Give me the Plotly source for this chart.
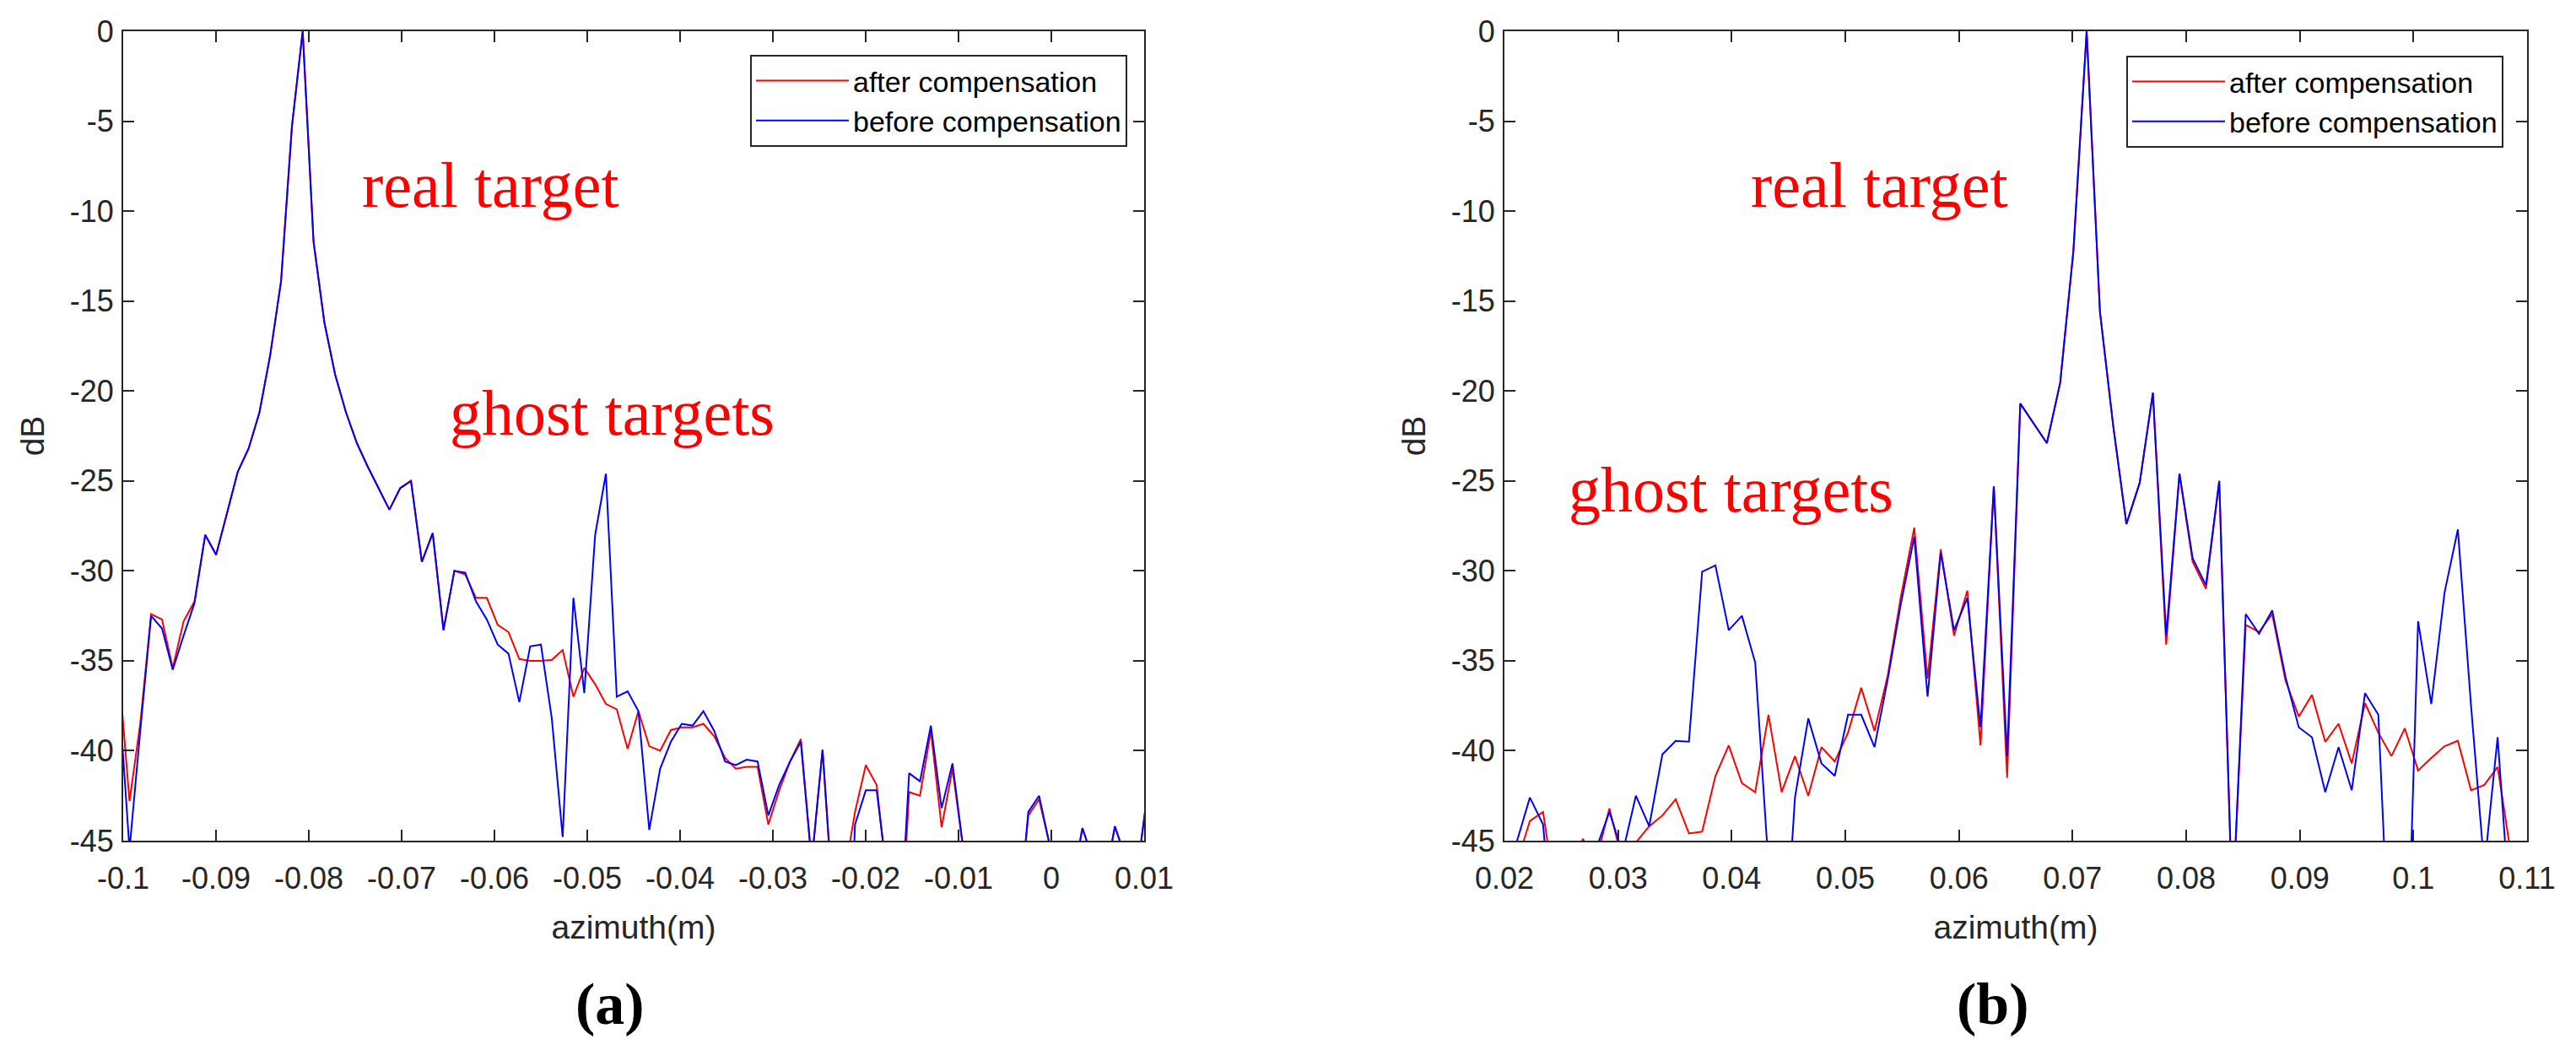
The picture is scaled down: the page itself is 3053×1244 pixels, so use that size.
import numpy as np
import plotly.graph_objects as go

# ---------------- data ----------------
# sample grid of panel (a) / (b): azimuth positions (m), uniform sampling
azimuth_a = np.round(np.linspace(-0.10049, 0.01035, 96), 5)
azimuth_b = np.round(np.linspace(0.02107, 0.10974, 77), 5)

after_a = [
    -35.4, -42.8, -38.5, -32.4, -32.7, -35.4, -32.8, -31.7, -28.0, -29.1,
    -26.8, -24.5, -23.2, -21.2, -18.0, -13.9, -5.3, 0.0, -11.7, -16.2,
    -19.1, -21.2, -22.9, -24.2, -25.4, -26.6, -25.4, -25.0, -29.5, -27.9,
    -33.3, -30.0, -30.2, -31.5, -31.5, -33.0, -33.4, -34.9, -35.0, -35.0,
    -34.95, -34.4, -37.0, -35.4, -36.3, -37.4, -37.7, -39.9, -37.8, -39.75,
    -40.0, -38.85, -38.7, -38.7, -38.5, -39.2, -40.4, -41.0, -40.9, -40.9,
    -44.1, -42.2, -40.6, -39.35, -46.2, -39.95, -48.7, -47.0, -43.4, -40.8,
    -41.9, -47.3, -53.0, -42.3, -42.5, -38.9, -44.25, -41.0, -45.5, -55.0,
    -60.0, -60.0, -55.0, -50.0, -43.6, -42.7, -45.3, -60.0, -47.6, -44.3,
    -46.1, -47.5, -44.2, -46.0, -47.0, -42.4,
]
before_a = [
    -36.6, -45.5, -38.9, -32.5, -33.2, -35.5, -33.6, -31.8, -28.0, -29.1,
    -26.8, -24.5, -23.2, -21.2, -18.0, -13.9, -5.3, 0.0, -11.7, -16.2,
    -19.1, -21.2, -22.9, -24.2, -25.4, -26.6, -25.4, -25.0, -29.5, -27.9,
    -33.3, -30.0, -30.1, -31.7, -32.7, -34.1, -34.6, -37.3, -34.2, -34.1,
    -38.2, -44.8, -31.5, -36.8, -28.0, -24.6, -37.0, -36.7, -37.8, -44.4,
    -41.0, -39.5, -38.5, -38.6, -37.8, -38.9, -40.6, -40.8, -40.5, -40.6,
    -43.6, -41.9, -40.6, -39.5, -46.2, -39.95, -48.7, -60.0, -44.1, -42.2,
    -42.2, -47.0, -52.0, -41.25, -41.7, -38.6, -43.2, -40.7, -45.5, -55.0,
    -60.0, -60.0, -55.0, -50.0, -43.4, -42.5, -45.3, -60.0, -47.6, -44.3,
    -46.1, -47.5, -44.2, -46.0, -47.0, -42.4,
]

after_b = [
    -46.3, -43.9, -43.4, -48.4, -47.0, -44.9, -46.1, -43.2, -46.2, -45.1,
    -44.2, -43.6, -42.7, -44.6, -44.5, -41.4, -39.7, -41.8, -42.3, -38.0,
    -42.3, -40.3, -42.5, -39.8, -40.6, -39.0, -36.5, -38.9, -35.8, -31.4,
    -27.6, -36.0, -28.8, -33.6, -31.1, -39.7, -25.3, -41.5, -20.7, -21.8,
    -22.9, -19.55, -12.25, 0.0, -15.6, -21.9, -27.4, -25.1, -20.1, -34.1,
    -24.6, -29.5, -31.0, -25.0, -49.0, -33.0, -33.4, -32.4, -36.1, -38.1,
    -36.9, -39.5, -38.5, -40.7, -37.35, -39.0, -40.3, -38.75, -41.1, -40.4,
    -39.75, -39.45, -42.2, -41.9, -40.9, -45.7, -55.0,
]
before_b = [
    -45.1, -42.6, -44.1, -52.4, -55.0, -55.0, -45.45, -43.4, -45.7, -42.5,
    -44.2, -40.2, -39.45, -39.5, -30.05, -29.7, -33.3, -32.5, -35.1, -46.4,
    -54.3, -42.6, -38.2, -40.7, -41.4, -38.0, -38.0, -39.8, -36.0, -31.8,
    -28.1, -37.0, -29.0, -33.3, -31.5, -38.7, -25.3, -40.3, -20.7, -21.8,
    -22.9, -19.55, -12.25, 0.0, -15.6, -21.9, -27.4, -25.1, -20.1, -33.6,
    -24.6, -29.3, -30.8, -25.0, -49.0, -32.4, -33.5, -32.2, -35.9, -38.7,
    -39.25, -42.3, -39.8, -42.2, -36.8, -38.0, -54.5, -57.5, -32.8, -37.4,
    -31.2, -27.7, -37.5, -46.5, -39.25, -49.6, -55.0,
]

series_names = ["after compensation", "before compensation"]
x_ticks_a = [-0.1, -0.09, -0.08, -0.07, -0.06, -0.05, -0.04, -0.03, -0.02, -0.01, 0, 0.01]
x_ticktext_a = ["-0.1", "-0.09", "-0.08", "-0.07", "-0.06", "-0.05", "-0.04", "-0.03",
                "-0.02", "-0.01", "0", "0.01"]
x_ticks_b = [0.02, 0.03, 0.04, 0.05, 0.06, 0.07, 0.08, 0.09, 0.1, 0.11]
x_ticktext_b = ["0.02", "0.03", "0.04", "0.05", "0.06", "0.07", "0.08", "0.09", "0.1", "0.11"]
y_ticks = [0, -5, -10, -15, -20, -25, -30, -35, -40, -45]
y_ticktext = ["0", "-5", "-10", "-15", "-20", "-25", "-30", "-35", "-40", "-45"]

# ---------------- figure ----------------
W, H = 3053, 1244
RED, BLUE = "#ff0000", "#0000ff"
AX = "#262626"
SANS = "Liberation Sans, Arial, sans-serif"
SERIF = "Liberation Serif, Times New Roman, serif"

fig = go.Figure()
fig.add_trace(go.Scatter(x=azimuth_a, y=after_a, mode="lines", name=series_names[0],
                         line=dict(color=RED, width=2), xaxis="x", yaxis="y", legend="legend"))
fig.add_trace(go.Scatter(x=azimuth_a, y=before_a, mode="lines", name=series_names[1],
                         line=dict(color=BLUE, width=2), xaxis="x", yaxis="y", legend="legend"))
fig.add_trace(go.Scatter(x=azimuth_b, y=after_b, mode="lines", name=series_names[0],
                         line=dict(color=RED, width=2), xaxis="x2", yaxis="y2", legend="legend2"))
fig.add_trace(go.Scatter(x=azimuth_b, y=before_b, mode="lines", name=series_names[1],
                         line=dict(color=BLUE, width=2), xaxis="x2", yaxis="y2", legend="legend2"))

ydom = [(H - 996) / H, (H - 37) / H]
common_axis = dict(showline=True, linecolor=AX, linewidth=2, mirror="ticks", ticks="inside",
                   ticklen=13, tickwidth=2, tickcolor=AX, showgrid=False, zeroline=False,
                   automargin=False,
                   tickfont=dict(family=SANS, size=36, color=AX))
title_font = dict(family=SANS, size=39, color=AX)

fig.update_layout(
    template="none",
    width=W, height=H, margin=dict(l=0, r=0, t=0, b=0, autoexpand=False),
    paper_bgcolor="white", plot_bgcolor="white",
    xaxis=dict(domain=[146 / W, 1356 / W], range=[-0.1, 0.01], tickvals=x_ticks_a,
               ticktext=x_ticktext_a, anchor="y", ticklabelstandoff=12,
               title=dict(text="azimuth(m)", font=title_font, standoff=24),
               **common_axis),
    yaxis=dict(domain=ydom, range=[-45, 0], tickvals=y_ticks, ticktext=y_ticktext, anchor="x",
               ticklabelstandoff=2,
               title=dict(text="dB", font=title_font, standoff=18),
               **common_axis),
    xaxis2=dict(domain=[1783 / W, 2995 / W], range=[0.02, 0.11], tickvals=x_ticks_b,
                ticktext=x_ticktext_b, anchor="y2", ticklabelstandoff=12,
                title=dict(text="azimuth(m)", font=title_font, standoff=24),
                **common_axis),
    yaxis2=dict(domain=ydom, range=[-45, 0], tickvals=y_ticks, ticktext=y_ticktext, anchor="x2",
                ticklabelstandoff=2,
                title=dict(text="dB", font=title_font, standoff=18),
                **common_axis),
    legend=dict(x=1336 / W, y=(H - 65) / H, xanchor="right", yanchor="top",
                bgcolor="white", bordercolor=AX, borderwidth=2, itemwidth=110,
                font=dict(family=SANS, size=34, color="black")),
    legend2=dict(x=2967 / W, y=(H - 66) / H, xanchor="right", yanchor="top",
                 bgcolor="white", bordercolor=AX, borderwidth=2, itemwidth=110,
                 font=dict(family=SANS, size=34, color="black")),
    showlegend=True,
)

notes = [
    ("x", "y", -0.0604, -8.54, "real target"),
    ("x", "y", -0.04736, -21.2, "ghost targets"),
    ("x2", "y2", 0.05298, -8.54, "real target"),
    ("x2", "y2", 0.03993, -25.46, "ghost targets"),
]
for xr, yr, xv, yv, txt in notes:
    fig.add_annotation(x=xv, y=yv, xref=xr, yref=yr, text=txt, showarrow=False,
                       xanchor="center", yanchor="middle",
                       font=dict(family=SERIF, size=76, color=RED))

for xp, label in [(723, "(a)"), (2362, "(b)")]:
    fig.add_annotation(x=xp / W, y=(H - 1189) / H, xref="paper", yref="paper",
                       text="<b>%s</b>" % label, showarrow=False,
                       xanchor="center", yanchor="middle",
                       font=dict(family=SERIF, size=70, color="black"))

fig.write_html("out.html", config={"displayModeBar": False},
               post_script="document.body.style.margin='0';document.body.style.overflow='hidden';")
